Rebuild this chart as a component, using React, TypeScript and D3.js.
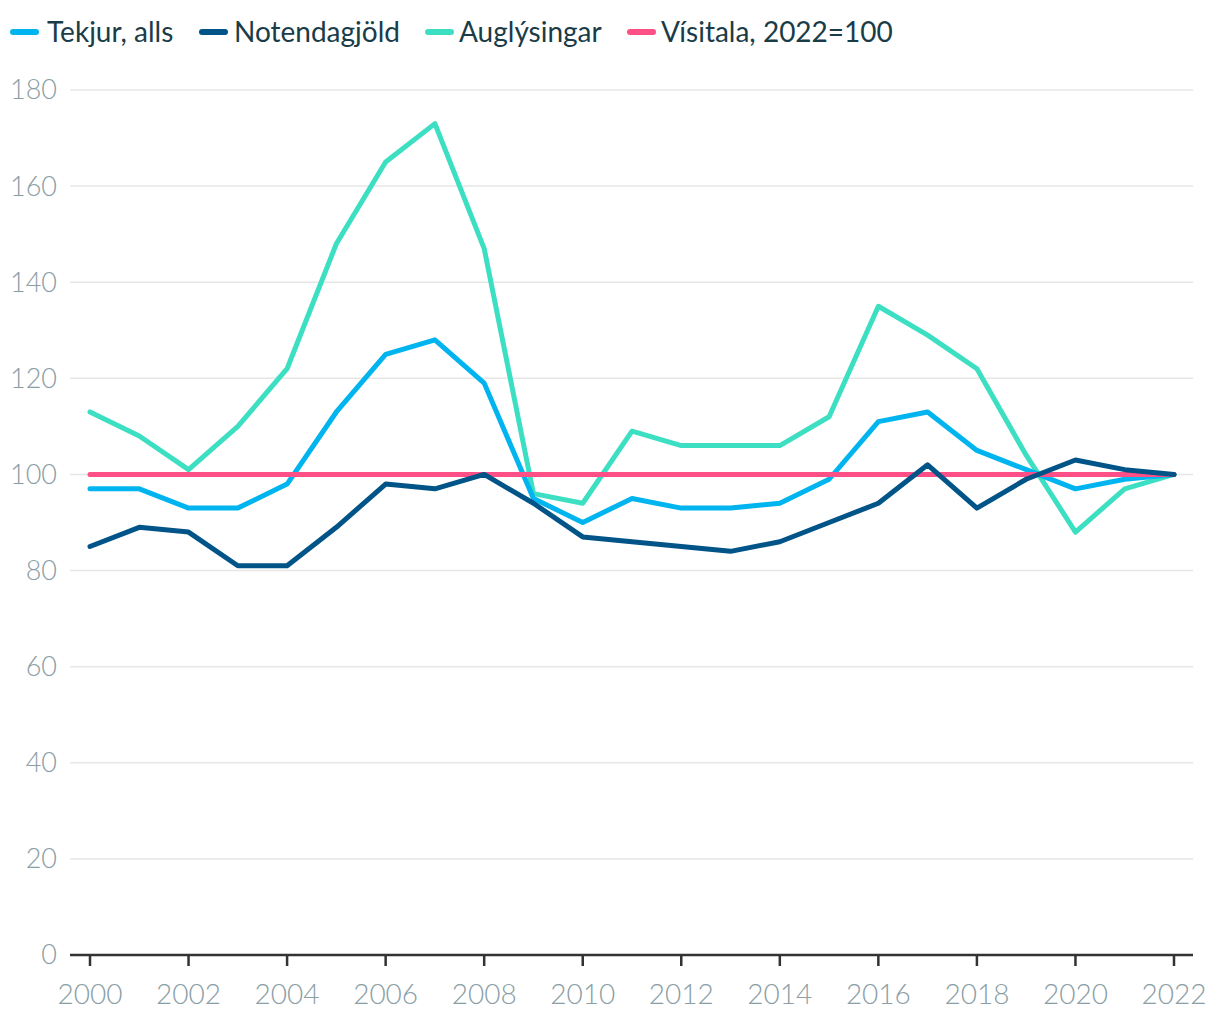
import React from "react";
import * as d3 from "d3";

const years = d3.range(2000, 2023);
const tekjur = [97, 97, 93, 93, 98, 113, 125, 128, 119, 95, 90, 95, 93, 93, 94, 99, 111, 113, 105, 101, 97, 99, 100];
const notendagjold = [85, 89, 88, 81, 81, 89, 98, 97, 100, 94, 87, 86, 85, 84, 86, 90, 94, 102, 93, 99, 103, 101, 100];
const auglysingar = [113, 108, 101, 110, 122, 148, 165, 173, 147, 96, 94, 109, 106, 106, 106, 112, 135, 129, 122, 104, 88, 97, 100];
const visitala = [100, 100, 100, 100, 100, 100, 100, 100, 100, 100, 100, 100, 100, 100, 100, 100, 100, 100, 100, 100, 100, 100, 100];
const yTicks = [0, 20, 40, 60, 80, 100, 120, 140, 160, 180];
const xTicks = [2000, 2002, 2004, 2006, 2008, 2010, 2012, 2014, 2016, 2018, 2020, 2022];

const series = [
  { name: "Tekjur, alls", values: tekjur, color: "#00b5ef" },
  { name: "Notendagjöld", values: notendagjold, color: "#005487" },
  { name: "Auglýsingar", values: auglysingar, color: "#3ddfc3" },
  { name: "Vísitala, 2022=100", values: visitala, color: "#ff4f87" },
];
const drawOrder = [2, 0, 3, 1];
const legendX = [10, 199, 425, 627];
const legendTextX = [47, 234, 459, 661];

export default function App() {
  const W = 1220, H = 1020;
  const x = d3.scaleLinear().domain([2000, 2022]).range([90, 1174]);
  const y = d3.scaleLinear().domain([0, 180]).range([955, 90]);
  const line = d3.line<number>().x((_, i) => x(years[i])).y((d) => y(d));
  const font = "Lato, 'Noto Sans', sans-serif";
  return (
    <svg width={W} height={H} style={{ position: "absolute", left: 0, top: 0 }} fontFamily={font}>
      <rect width={W} height={H} fill="#fff" />
      {series.map((s, i) => (
        <g key={s.name}>
          <line x1={legendX[i] + 3} x2={legendX[i] + 26} y1={32} y2={32} stroke={s.color} strokeWidth={6} strokeLinecap="round" />
          <text x={legendTextX[i]} y={32} dy="0.35em" fontSize={28} fill="#1a3c48">{s.name}</text>
        </g>
      ))}
      {yTicks.filter((t) => t > 0).map((t) => (
        <line key={t} x1={70} x2={1193} y1={y(t)} y2={y(t)} stroke="#e6e6e6" strokeWidth={1.5} />
      ))}
      {yTicks.map((t) => (
        <text key={t} x={57} y={y(t)} dy="0.35em" textAnchor="end" fontSize={27} fontWeight={300} fill="#8a9ea5">{t}</text>
      ))}
      <line x1={70} x2={1193} y1={y(0)} y2={y(0)} stroke="#333" strokeWidth={2.5} />
      {xTicks.map((t) => (
        <g key={t}>
          <line x1={x(t)} x2={x(t)} y1={y(0)} y2={y(0) + 11} stroke="#333" strokeWidth={2.5} />
          <text x={x(t)} y={994} dy="0.35em" textAnchor="middle" fontSize={28} fontWeight={300} fill="#8a9ea5">{t}</text>
        </g>
      ))}
      {drawOrder.map((i) => (
        <path key={series[i].name} d={line(series[i].values) || ""} fill="none" stroke={series[i].color} strokeWidth={5} strokeLinejoin="round" strokeLinecap="round" />
      ))}
    </svg>
  );
}
